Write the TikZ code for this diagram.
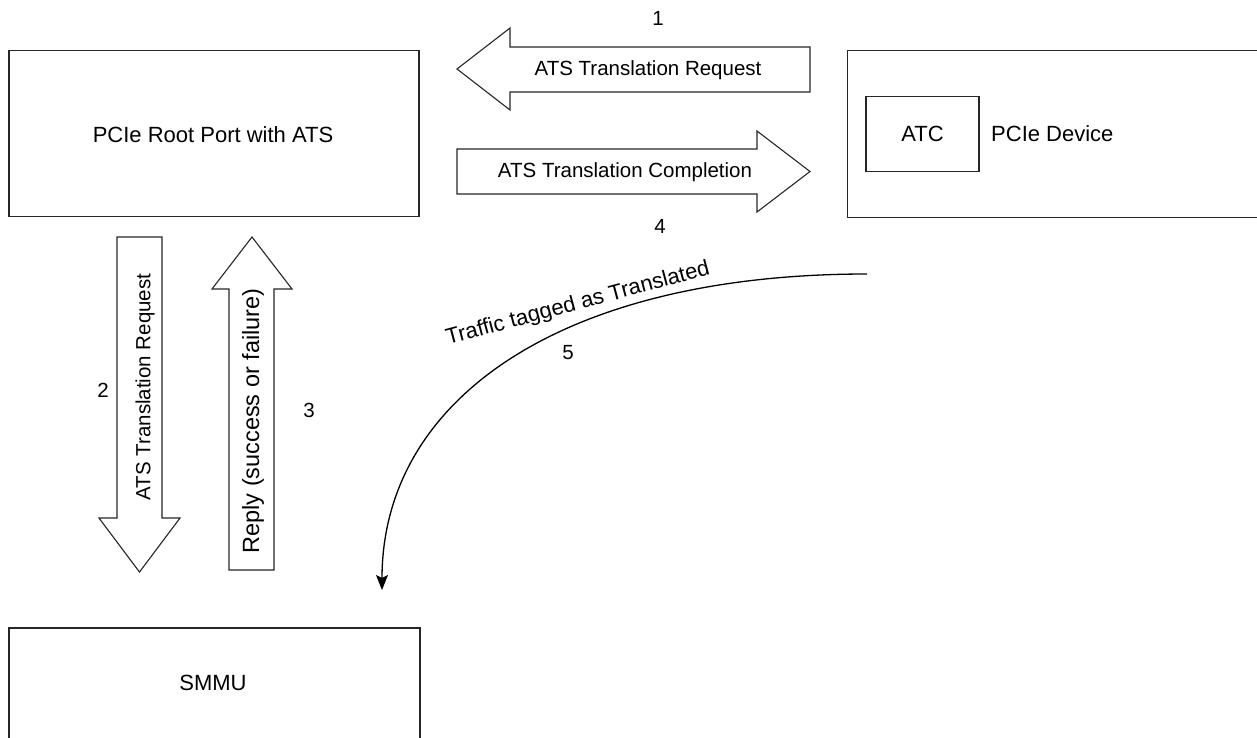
\documentclass[tikz,border=0pt]{standalone}
\usepackage{fontspec}
\setmainfont{Liberation Sans}
\usetikzlibrary{arrows.meta}
\begin{document}
\begin{tikzpicture}[x=1pt,y=-1pt,
  every node/.style={font=\fontsize{20.5}{24}\selectfont, inner sep=0pt},
  big/.style={font=\fontsize{22}{26}\selectfont},
  outline/.style={draw=black!85, line width=1.3pt},
  blockarrow/.style={draw=black!85, line width=1.1pt, fill=white, line join=miter},
  lbl/.style={anchor=center}]
  \useasboundingbox (0,0) rectangle (1257,738);

  % main blocks
  \node[outline, minimum width=410pt, minimum height=166pt] (rp) at (214,133.5) {};
  \node[lbl, big] (rptext) at (213,135) {PCIe Root Port with ATS};

  \node[outline, minimum width=440pt, minimum height=167pt] (dev) at (1067.5,134) {};
  \node[outline, minimum width=113pt, minimum height=75pt] (atc) at (922.5,134) {};
  \node[lbl, big] (atctext) at (922.5,134) {ATC};
  \node[anchor=west, big] (devtext) at (991,134) {PCIe Device};

  \node[outline, minimum width=411pt, minimum height=140pt] (smmu) at (214.5,698) {};
  \node[lbl, big] (smmutext) at (213,683) {SMMU};

  % block arrow 1: device -> root port
  \draw[blockarrow] (810,47) -- (510,47) -- (510,28) -- (457,69) -- (510,110)
        -- (510,92) -- (810,92) -- cycle;
  \node[lbl] (req1) at (648,70) {ATS Translation Request};
  \node[lbl] (n1) at (658,18) {1};

  % block arrow 4: root port -> device
  \draw[blockarrow] (457,149) -- (757,149) -- (757,131) -- (810,171.5) -- (757,212)
        -- (757,194) -- (457,194) -- cycle;
  \node[lbl] (cpl4) at (625,172) {ATS Translation Completion};
  \node[lbl] (n4) at (660,226) {4};

  % block arrow 2: root port -> SMMU
  \draw[blockarrow] (117,237) -- (162,237) -- (162,518) -- (180,518) -- (139.5,572)
        -- (99,518) -- (117,518) -- cycle;
  \node[lbl, rotate=90] (req2) at (145,387) {ATS Translation Request};
  \node[lbl] (n2) at (103,390) {2};

  % block arrow 3: SMMU -> root port
  \draw[blockarrow] (229,570) -- (274,570) -- (274,289) -- (292,289) -- (252,237)
        -- (212,289) -- (229,289) -- cycle;
  \node[lbl, rotate=90, font=\fontsize{23.5}{28}\selectfont] (rep3) at (253,421) {Reply (success or failure)};
  \node[lbl] (n3) at (309,410) {3};

  % translated traffic from the device
  \coordinate (tstart) at (867,274);
  \coordinate (tend) at (382,590);
  \draw[line width=1.3pt, -{Stealth[length=15pt, width=12pt, inset=3pt]}]
    (tstart) .. controls (560,274) and (382,400) .. (tend);
  \node[lbl, rotate=15, big] (traffic) at (578,304) {Traffic tagged as Translated};
  \node[lbl] (n5) at (568,353) {5};
\end{tikzpicture}
\end{document}
